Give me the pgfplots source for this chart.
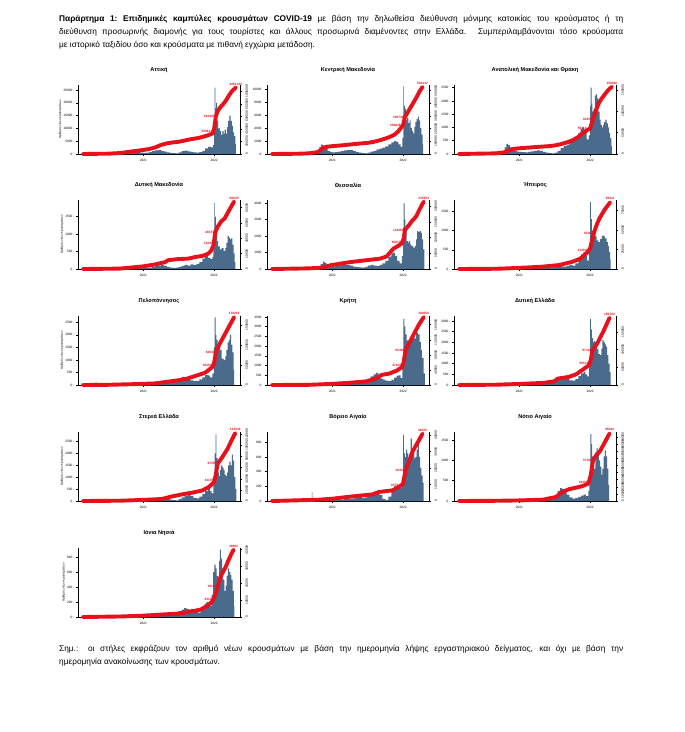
\documentclass[border=0pt]{standalone}
\usepackage{fontspec}
\setmainfont{Liberation Sans}
\usepackage{pgfplots}
\pgfplotsset{compat=1.18}
\definecolor{barblue}{HTML}{4A6B8B}
\definecolor{cumred}{HTML}{E8101A}
\newcommand{\tk}{\fontsize{3.2}{3.6}\selectfont}
\pgfplotsset{
  common/.style={scale only axis, width=162pt, height=69pt,
    xmin=0.9, xmax=28.4, ymin=0, clip=false,
    tick label style={font=\tk, /pgf/number format/assume math mode=true},
    scaled y ticks=false,
    yticklabel style={/pgf/number format/fixed, /pgf/number format/1000 sep={}},
    axis line style={line width=0.8pt}, major tick length=2pt,
    tick style={line width=0.5pt, black}, tick align=outside},
  barax/.style={common, axis x line*=bottom, axis y line*=left,
    xtick={12,24}, xticklabels={2021,2022},
    title style={font=\fontsize{5.6}{6}\selectfont\bfseries, at={(0.5,1)}, anchor=south, yshift=3pt},
    ylabel style={font=\tk, yshift=-5pt}},
  cumax/.style={common, axis x line=none, axis y line*=right,
    yticklabel style={rotate=90, anchor=north}},
}
\tikzset{lbl/.style={font=\tk\bfseries, text=cumred, inner sep=0.4pt}}
\newcommand{\bars}[1]{\addplot[const plot, draw=none, fill=barblue] coordinates {#1} \closedcycle;}
\newcommand{\cum}[1]{\addplot[cumred, line width=3.9pt, line cap=round, line join=round] coordinates {#1};}
\newcommand{\labs}[6]{%
  \node[lbl, anchor=south east] at (axis cs:#1) {#2};
  \node[lbl, anchor=east, xshift=-0.5pt] at (axis cs:#3) {#4};
  \node[lbl, anchor=south, yshift=1.8pt] at (axis cs:#5) {#6};}
\def\yl{Αριθμός νέων κρουσμάτων}

\begin{document}
\begin{tikzpicture}
\useasboundingbox (0,0) rectangle (685pt,-732pt);

\node[anchor=north west, inner sep=0, align=left, font=\fontsize{8.3}{13}\selectfont] at (59pt,-15pt)
  {\makebox[564pt][s]{\textbf{Παράρτημα 1:\ Επιδημικές καμπύλες κρουσμάτων COVID-19} με βάση την δηλωθείσα διεύθυνση μόνιμης κατοικίας του κρούσματος ή τη}\\
   \makebox[564pt][s]{διεύθυνση προσωρινής διαμονής για τους τουρίστες και άλλους προσωρινά διαμένοντες στην Ελλάδα. Συμπεριλαμβάνονται τόσο κρούσματα}\\
   με ιστορικό ταξιδίου όσο και κρούσματα με πιθανή εγχώρια μετάδοση.};

\node[anchor=north west, inner sep=0, align=left, font=\fontsize{8.3}{13}\selectfont] at (59pt,-645pt)
  {\makebox[564pt][s]{Σημ.: οι στήλες εκφράζουν τον αριθμό νέων κρουσμάτων με βάση την ημερομηνία λήψης εργαστηριακού δείγματος, και όχι με βάση την}\\
   ημερομηνία ανακοίνωσης των κρουσμάτων.};

% ---------- Row 1 ----------
% Attiki
\begin{axis}[barax, at={(78pt,-154pt)}, title={Αττική}, ylabel={\yl}, ymax=27000, ytick={0,5000,10000,15000,20000,25000}]
\bars{(2,0)(2.5,20)(3,150)(3.5,60)(4,20)(5,10)(6,20)(7,80)(8,200)(8.5,300)(9,250)(9.5,350)(10,700)(10.5,1100)(11,900)(11.5,500)(12,400)(12.5,500)(13,700)(13.5,1100)(14,1400)(14.5,1500)(15,1200)(15.5,900)(16,600)(16.5,400)(17,300)(17.5,250)(18,600)(18.5,1100)(19,1300)(19.5,1000)(20,800)(20.5,600)(21,500)(21.5,700)(22,1200)(22.5,2200)(23,2800)(23.5,2600)(23.8,3500)(24,14000)(24.1,26000)(24.2,18000)(24.35,20000)(24.5,13000)(24.7,10000)(25,9000)(25.2,7500)(25.4,9000)(25.6,8000)(25.8,9500)(26,8000)(26.2,10500)(26.4,13000)(26.6,15000)(26.8,13000)(27,11000)(27.2,8500)(27.4,7000)(27.6,4000)(27.7,0)}
\end{axis}
\begin{axis}[cumax, at={(78pt,-154pt)}, ymax=1100000, ytick={0,200000,400000,600000,800000,1000000}]
\cum{(1.7,0)(4,3000)(6,5000)(8,15000)(10,40000)(12,65000)(13,80000)(14,105000)(15,145000)(16,170000)(17,185000)(18,195000)(19,215000)(20,235000)(21,250000)(22,270000)(23,300000)(23.8,330000)(24.0,400000)(24.3,600000)(24.6,680000)(25,740000)(25.5,790000)(26,850000)(26.5,930000)(27,1000000)(27.7,1060000)}
\labs{23.8,330000}{329614}{24.3,600000}{612403}{27.7,1060000}{1062315}
\end{axis}

% Kentriki Makedonia
\begin{axis}[barax, at={(267pt,-154pt)}, title={Κεντρική Μακεδονία}, ymax=10700, ytick={0,2000,4000,6000,8000,10000}]
\bars{(2,0)(3,30)(4,10)(6,10)(7,30)(8,100)(8.5,150)(9,250)(9.5,600)(9.8,1100)(10.1,1450)(10.4,1300)(10.8,900)(11.2,500)(11.6,300)(12,250)(12.5,300)(13,350)(13.5,450)(14,550)(14.5,650)(15,600)(15.5,450)(16,300)(16.5,200)(17,120)(17.5,100)(18,200)(18.5,350)(19,500)(19.5,700)(20,850)(20.5,1000)(21,1200)(21.5,1500)(22,1800)(22.5,2000)(22.8,1900)(23.2,1500)(23.6,1100)(23.9,2500)(24.05,10500)(24.15,7500)(24.3,7000)(24.5,5200)(24.7,5600)(24.9,4800)(25.1,5200)(25.3,4000)(25.5,3600)(25.7,3200)(25.9,4200)(26.1,5000)(26.3,5400)(26.5,5800)(26.7,5200)(26.9,4000)(27.1,3000)(27.3,1500)(27.4,0)}
\end{axis}
\begin{axis}[cumax, at={(267pt,-154pt)}, ymax=545000, ytick={0,100000,200000,300000,400000,500000}]
\cum{(1.7,0)(6,2000)(8,5000)(9.5,15000)(10,30000)(10.5,50000)(11,57000)(12,62000)(13,66000)(14,70000)(15,75000)(16,80000)(17,84000)(18,88000)(19,96000)(20,108000)(21,122000)(22,140000)(22.6,155000)(23.2,180000)(23.7,210000)(24.0,230000)(24.3,290000)(24.8,330000)(25.3,370000)(25.8,410000)(26.3,450000)(26.8,495000)(27.3,530000)}
\labs{23.7,210000}{209836}{24.3,290000}{290741}{27.3,530000}{530217}
\end{axis}

% Anatoliki Makedonia kai Thraki
\begin{axis}[barax, at={(454pt,-154pt)}, title={Ανατολική Μακεδονία και Θράκη}, ymax=2600, ytick={0,500,1000,1500,2000,2500}]
\bars{(2,0)(3,10)(4,5)(6,5)(7,10)(8,30)(8.5,60)(9,120)(9.5,250)(9.8,380)(10.1,330)(10.4,250)(10.8,180)(11.2,120)(11.6,90)(12,80)(12.5,70)(13,60)(13.5,80)(14,100)(14.5,120)(15,140)(15.5,120)(16,80)(16.5,50)(17,30)(17.5,20)(18,50)(18.5,120)(19,220)(19.5,300)(20,350)(20.5,450)(21,550)(21.5,650)(22,800)(22.4,950)(22.7,1000)(23,800)(23.4,550)(23.8,700)(24.0,1800)(24.1,2500)(24.25,1900)(24.4,1600)(24.6,1700)(24.8,2200)(25,2250)(25.2,2100)(25.4,1600)(25.6,1300)(25.8,1100)(26,1000)(26.2,1100)(26.4,1200)(26.6,1300)(26.8,1150)(27,1000)(27.2,800)(27.4,600)(27.6,300)(27.7,0)}
\end{axis}
\begin{axis}[cumax, at={(454pt,-154pt)}, ymax=162000, ytick={0,50000,100000,150000}]
\cum{(1.7,0)(8,1500)(9.5,4000)(10,7000)(10.5,10000)(11,12000)(12,13500)(13,14500)(14,15500)(15,16500)(16,17500)(17,18500)(18,20000)(19,23000)(20,27000)(21,32000)(22,40000)(22.8,50000)(23.5,56000)(24,60000)(24.5,82000)(25,103000)(25.5,120000)(26,131000)(26.5,140000)(27,149000)(27.7,158000)}
\labs{23.5,56000}{56118}{24.5,82000}{82455}{27.7,158000}{158290}
\end{axis}

% ---------- Row 2 ----------
% Dytiki Makedonia
\begin{axis}[barax, at={(78pt,-269pt)}, title={Δυτική Μακεδονία}, ylabel={\yl}, ymax=1980, ytick={0,500,1000,1500}]
\bars{(2,0)(3,5)(4,2)(6,2)(7,5)(8,10)(9,30)(9.5,50)(10,70)(10.3,80)(10.7,60)(11,40)(11.5,30)(12,25)(12.5,30)(13,40)(13.5,60)(14,80)(14.5,100)(15,110)(15.5,90)(16,60)(16.5,40)(17,30)(17.5,40)(18,60)(18.5,90)(19,120)(19.5,100)(20,130)(20.5,110)(21,150)(21.5,200)(22,300)(22.4,420)(22.7,380)(23,320)(23.4,280)(23.7,350)(23.9,700)(24.05,1900)(24.15,1500)(24.3,1100)(24.5,800)(24.7,650)(25,560)(25.3,600)(25.6,520)(25.9,600)(26.1,750)(26.3,950)(26.5,900)(26.7,850)(26.9,880)(27.1,700)(27.3,450)(27.5,200)(27.6,0)}
\end{axis}
\begin{axis}[cumax, at={(78pt,-269pt)}, ymax=90000, ytick={0,20000,40000,60000,80000}]
\cum{(1.7,0)(8,500)(10,2000)(12,3500)(14,6000)(15.7,9000)(16.2,11500)(18,13000)(19.6,13500)(21,16000)(22,17000)(23,20000)(23.5,24000)(23.9,31000)(24.2,48000)(24.6,55000)(25.2,62000)(25.8,66000)(26.3,73000)(26.8,80000)(27.4,88000)}
\labs{23.9,31000}{31044}{24.2,48000}{48372}{27.4,88000}{88029}
\end{axis}

% Thessalia
\begin{axis}[barax, at={(267pt,-269pt)}, title={Θεσσαλία}, ymax=4200, ytick={0,1000,2000,3000,4000}]
\bars{(2,0)(3,10)(4,5)(6,5)(7,10)(8,20)(9,60)(9.5,150)(10,300)(10.4,450)(10.7,380)(11,250)(11.5,170)(12,150)(12.5,180)(13,200)(13.5,230)(14,250)(14.5,230)(15,200)(15.5,150)(16,120)(16.5,100)(17,90)(17.5,120)(18,200)(18.5,250)(19,200)(19.5,180)(20,250)(20.5,350)(21,500)(21.5,750)(22,950)(22.3,1000)(22.6,800)(23,500)(23.4,350)(23.8,800)(24.0,2500)(24.1,4000)(24.25,3000)(24.4,2300)(24.6,1700)(24.8,1600)(25,1700)(25.2,1500)(25.4,1400)(25.7,1300)(26,1400)(26.2,1800)(26.4,2300)(26.6,2250)(26.8,2300)(27,2200)(27.2,1800)(27.4,1200)(27.6,0)}
\end{axis}
\begin{axis}[cumax, at={(267pt,-269pt)}, ymax=220000, ytick={0,50000,100000,150000,200000}]
\cum{(1.7,0)(8,2000)(10,4000)(10.6,6000)(11.7,12000)(13,16000)(15,22000)(17.3,27000)(20.1,33000)(21.2,40000)(22.3,64000)(23.7,80000)(24.1,96000)(24.3,124000)(25,140000)(25.6,155000)(26.2,167000)(26.8,190000)(27.5,215000)}
\labs{23.7,80000}{80213}{24.3,124000}{124360}{27.5,215000}{215354}
\end{axis}

% Ipeiros
\begin{axis}[barax, at={(454pt,-269pt)}, title={Ήπειρος}, ymax=1800, ytick={0,500,1000,1500}]
\bars{(2,0)(3,3)(4,2)(6,2)(7,4)(8,8)(9,15)(10,30)(10.5,35)(11,25)(12,15)(13,20)(14,30)(15,40)(16,30)(17,25)(17.5,40)(18,60)(18.5,80)(19,70)(19.5,60)(20,80)(20.5,100)(21,90)(21.5,150)(22,250)(22.5,380)(22.9,450)(23.2,350)(23.5,220)(23.8,500)(24.0,1750)(24.15,1300)(24.3,1000)(24.5,1050)(24.7,1000)(24.9,850)(25.1,750)(25.4,700)(25.7,780)(26,870)(26.3,850)(26.5,800)(26.8,700)(27,600)(27.2,450)(27.4,250)(27.5,0)}
\end{axis}
\begin{axis}[cumax, at={(454pt,-269pt)}, ymax=88000, ytick={0,25000,50000,75000}]
\cum{(1.7,0)(8,300)(10,800)(12,1500)(14,2200)(15.9,3000)(18.7,5000)(20.9,9000)(22.3,13000)(23.5,21000)(24,26000)(24.6,45000)(25.2,58000)(25.7,66000)(26.5,76000)(27.4,85000)}
\labs{23.5,21000}{21390}{24.6,45000}{45112}{27.4,85000}{85011}
\end{axis}

% ---------- Row 3 ----------
% Peloponnisos
\begin{axis}[barax, at={(78pt,-385pt)}, title={Πελοπόννησος}, ylabel={\yl}, ymax=2750, ytick={0,500,1000,1500,2000,2500}]
\bars{(2,0)(3,10)(3.8,20)(3.9,110)(4.0,20)(5,5)(6,5)(7,10)(8,20)(9,40)(10,80)(10.5,100)(11,80)(12,60)(13,80)(14,120)(15,140)(15.5,120)(16,100)(16.5,80)(17,100)(17.5,150)(18,250)(18.5,320)(19,300)(19.5,250)(20,180)(20.5,150)(21,160)(21.5,220)(22,300)(22.5,400)(22.9,380)(23.3,300)(23.7,450)(23.95,1500)(24.1,2700)(24.25,2000)(24.4,1800)(24.6,1500)(24.8,1550)(25,1400)(25.3,1050)(25.6,1000)(25.9,1150)(26.1,1400)(26.3,1700)(26.5,1800)(26.7,2000)(26.9,1600)(27.1,1300)(27.3,600)(27.4,0)}
\end{axis}
\begin{axis}[cumax, at={(78pt,-385pt)}, ymax=173000, ytick={0,50000,100000,150000}]
\cum{(1.7,0)(6,500)(10,2000)(12,3000)(14,4000)(17,10000)(18.2,12500)(19.4,16000)(21.3,25000)(22.5,31000)(23.7,45000)(24,55000)(24.3,82000)(24.9,102000)(25.5,118000)(26.4,143000)(27.4,170000)}
\labs{23.7,45000}{45287}{24.3,82000}{82040}{27.4,170000}{170219}
\end{axis}

% Kriti
\begin{axis}[barax, at={(267pt,-385pt)}, title={Κρήτη}, ymax=3550, ytick={0,500,1000,1500,2000,2500,3000,3500}]
\bars{(2,0)(3,5)(4,3)(6,2)(7,8)(8,15)(9,30)(10,60)(10.5,80)(11,60)(12,40)(13,50)(14,70)(15,90)(15.5,120)(16,150)(16.5,130)(17,180)(17.5,250)(18,330)(18.5,450)(19,550)(19.4,620)(19.8,450)(20.2,330)(20.6,280)(21,220)(21.5,200)(22,260)(22.5,380)(22.9,480)(23.2,500)(23.6,350)(23.9,1200)(24.05,3400)(24.2,3000)(24.4,2600)(24.6,2300)(24.8,2200)(25,2100)(25.3,2300)(25.6,2500)(25.9,2400)(26.2,2700)(26.5,2600)(26.8,2200)(27,1800)(27.2,1400)(27.5,600)(27.7,0)}
\end{axis}
\begin{axis}[cumax, at={(267pt,-385pt)}, ymax=183000, ytick={0,40000,80000,120000,160000}]
\cum{(1.7,0)(8,500)(12,3000)(15,6000)(17.9,10000)(19.5,18000)(20.4,27000)(21.6,30000)(22.9,38000)(23.8,47000)(24.1,60000)(24.4,92000)(25,110000)(25.7,131000)(26.6,158000)(27.5,180000)}
\labs{23.8,47000}{47105}{24.4,92000}{92368}{27.5,180000}{180050}
\end{axis}

% Dytiki Ellada
\begin{axis}[barax, at={(454pt,-385pt)}, title={Δυτική Ελλάδα}, ymax=3230, ytick={0,500,1000,1500,2000,2500,3000}]
\bars{(2,0)(3,8)(4,5)(6,3)(7,8)(8,15)(9,30)(10,70)(10.5,90)(11,70)(12,60)(13,80)(14,120)(14.5,140)(15,160)(15.5,150)(16,120)(16.5,100)(17,90)(17.5,120)(18,180)(18.5,250)(19,300)(19.5,320)(20,280)(20.5,220)(21,200)(21.5,280)(22,420)(22.5,550)(22.9,620)(23.2,500)(23.5,400)(23.8,900)(24.0,3100)(24.15,2600)(24.3,2200)(24.5,2000)(24.7,2050)(24.9,1900)(25.1,1700)(25.4,1450)(25.7,1400)(25.9,1700)(26.1,2100)(26.3,2000)(26.5,1900)(26.7,1800)(26.9,1400)(27.1,1000)(27.3,600)(27.5,0)}
\end{axis}
\begin{axis}[cumax, at={(454pt,-385pt)}, ymax=195000, ytick={0,50000,100000,150000}]
\cum{(1.7,0)(8,800)(12,3000)(14,4500)(16,6000)(17.9,10000)(18.5,18000)(20.4,23000)(21.6,30000)(22.9,45000)(23.8,56000)(24.1,70000)(24.4,97000)(25.3,120000)(26.3,153000)(27.3,190000)}
\labs{23.8,56000}{56312}{24.4,97000}{97184}{27.3,190000}{190102}
\end{axis}

% ---------- Row 4 ----------
% Sterea Ellada
\begin{axis}[barax, at={(78pt,-501pt)}, title={Στερεά Ελλάδα}, ylabel={\yl}, ymax=2900, ytick={0,500,1000,1500,2000,2500}]
\bars{(2,0)(3,5)(4,3)(6,3)(7,5)(8,10)(9,25)(10,50)(10.5,70)(11,60)(12,50)(13,70)(14,110)(14.5,140)(15,160)(15.5,130)(16,90)(16.5,60)(17,40)(17.5,30)(18,80)(18.5,150)(19,220)(19.5,260)(20,200)(20.5,130)(21,110)(21.5,180)(22,300)(22.5,420)(23,500)(23.3,420)(23.6,320)(23.9,900)(24.1,2000)(24.25,2800)(24.4,1800)(24.6,1200)(24.8,1050)(25,1300)(25.2,1500)(25.4,1400)(25.6,1300)(25.8,1100)(26,1050)(26.2,1200)(26.4,1500)(26.6,1650)(26.8,1500)(27,1950)(27.2,1700)(27.4,1000)(27.6,500)(27.8,0)}
\end{axis}
\begin{axis}[cumax, at={(78pt,-501pt)}, ymax=124000, ytick={0,20000,40000,60000,80000,100000,120000}]
\cum{(1.7,0)(8,500)(12,2000)(15.1,3600)(16.9,8400)(19.1,13000)(20.3,15000)(22,19000)(23.1,25000)(24,34000)(24.3,48000)(24.6,67000)(25.4,79000)(26.3,94000)(27.1,112000)(27.6,122000)}
\labs{24,34000}{34178}{24.6,67000}{67250}{27.6,122000}{122036}
\end{axis}

% Voreio Aigaio
\begin{axis}[barax, at={(267pt,-501pt)}, title={Βόρειο Αιγαίο}, ymax=940, ytick={0,200,400,600,800}]
\bars{(2,0)(3,2)(4,1)(6,1)(7,3)(8,5)(8.4,10)(8.5,120)(8.6,10)(9,12)(9.5,20)(10,35)(10.5,30)(11,25)(11.5,30)(12,25)(13,20)(14,25)(15,30)(15.5,35)(16,40)(16.5,55)(17,40)(17.5,50)(18,70)(18.5,100)(19,120)(19.5,130)(20,80)(20.5,30)(21,15)(21.5,60)(22,150)(22.5,200)(23,220)(23.4,180)(23.8,300)(24.0,900)(24.15,650)(24.3,600)(24.5,700)(24.7,650)(24.9,500)(25.1,650)(25.3,850)(25.5,700)(25.7,650)(25.9,580)(26.1,600)(26.3,700)(26.5,850)(26.7,600)(26.9,450)(27.1,350)(27.3,250)(27.5,0)}
\end{axis}
\begin{axis}[cumax, at={(267pt,-501pt)}, ymax=42000, ytick={0,10000,20000,30000,40000}]
\cum{(1.7,0)(8,600)(9.7,800)(12,1400)(15.4,2800)(18.8,4000)(19.9,5500)(22.2,6500)(23.3,8500)(24,10500)(24.4,18500)(25,24000)(25.6,30000)(26.7,37000)(27.3,41000)}
\labs{23.3,8500}{8507}{24.4,18500}{18432}{27.3,41000}{41023}
\end{axis}

% Notio Aigaio
\begin{axis}[barax, at={(454pt,-501pt)}, title={Νότιο Αιγαίο}, ymax=1700, ytick={0,500,1000,1500}]
\bars{(2,0)(3,3)(4,2)(6,2)(7,5)(8,10)(9,15)(10,20)(11,18)(12,15)(13,15)(14,20)(15,25)(16,40)(16.5,50)(17,60)(17.5,90)(18,150)(18.5,250)(18.9,320)(19.2,300)(19.6,250)(20,160)(20.5,90)(21,60)(21.5,80)(22,100)(22.5,130)(22.9,160)(23.3,120)(23.7,250)(23.9,700)(24.05,1650)(24.2,1400)(24.35,1100)(24.5,900)(24.7,800)(24.9,1200)(25.1,1300)(25.3,1250)(25.5,1000)(25.7,850)(25.9,650)(26.1,800)(26.3,1100)(26.5,1250)(26.7,1100)(26.9,800)(27.1,400)(27.25,0)}
\end{axis}
\begin{axis}[cumax, at={(454pt,-501pt)}, ymax=97000, ytick={0,10000,20000,30000,40000,50000,60000,70000,80000,90000}]
\cum{(1.7,0)(8,300)(12,800)(16,1900)(18.2,5600)(19.3,12700)(20.4,16500)(22.6,20700)(23.7,24400)(24.1,36000)(24.5,57000)(25,64000)(25.6,69000)(26.4,81000)(27.3,95000)}
\labs{23.7,24400}{24391}{24.5,57000}{57160}{27.3,95000}{95044}
\end{axis}

% ---------- Row 5 ----------
% Ionia Nisia
\begin{axis}[barax, at={(78pt,-617pt)}, title={Ιόνια Νησιά}, ylabel={\yl}, ymax=920, ytick={0,200,400,600,800}]
\bars{(2,0)(3,2)(4,1)(6,1)(7,3)(8,5)(9,8)(10,15)(11,12)(12,10)(13,10)(14,12)(15,15)(16,20)(16.5,30)(17,40)(17.5,60)(18,80)(18.5,100)(18.9,120)(19.3,110)(19.7,100)(20.1,110)(20.5,100)(20.9,70)(21.3,60)(21.7,90)(22,120)(22.4,180)(22.7,200)(23,170)(23.3,150)(23.6,300)(23.85,600)(24.05,700)(24.25,650)(24.45,550)(24.65,500)(24.85,750)(25,900)(25.15,780)(25.35,650)(25.55,500)(25.75,350)(25.95,420)(26.15,550)(26.35,650)(26.55,600)(26.75,560)(26.95,500)(27.15,350)(27.35,150)(27.45,0)}
\end{axis}
\begin{axis}[cumax, at={(78pt,-617pt)}, ymax=41000, ytick={0,10000,20000,30000,40000}]
\cum{(1.7,0)(8,300)(12,800)(17.7,2000)(19.4,2800)(21.7,4400)(22.9,6700)(23.7,9300)(24.3,14000)(24.6,18000)(25.1,24000)(26,30000)(26.6,35000)(27.3,40000)}
\labs{23.7,9300}{9312}{24.6,18000}{18127}{27.3,40000}{39982}
\end{axis}

\end{tikzpicture}
\end{document}
